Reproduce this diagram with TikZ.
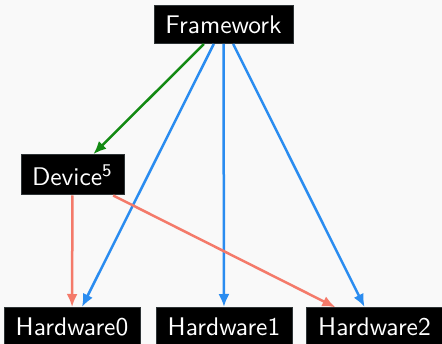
\documentclass[tikz,border=0pt]{standalone}
\usepackage{graphicx}
\usetikzlibrary{arrows.meta}
\renewcommand{\familydefault}{\sfdefault}
\definecolor{bg}{HTML}{F9F9F9}
\definecolor{edgeg}{HTML}{138A13}
\definecolor{edgeb}{HTML}{2A8CF0}
\definecolor{edger}{HTML}{F47A6A}
\definecolor{boxline}{HTML}{2E3436}
% labels use the 10pt sans design, enlarged
\newcommand{\lbl}[1]{\scalebox{2.55}{\normalsize #1}}
\begin{document}
\begin{tikzpicture}[x=1pt,y=-1pt,
  box/.style={draw=boxline, line width=1pt, fill=black, text=white,
    inner sep=0pt, minimum height=38pt, anchor=center},
  link/.style={line width=2.5pt, -{Latex[length=13pt,width=11pt]}, shorten >=0.5pt}]
  \fill[bg] (0,0) rectangle (442,344);
  \useasboundingbox (0,0) rectangle (442,344);
  \node[box, minimum width=139pt] (fw) at (223.5,24.5) {\lbl{Framework}};
  \node[box, minimum width=103pt, minimum height=40pt] (dev) at (72.5,175) {\lbl{Device\textsuperscript{5}}};
  \node[box, minimum width=136pt] (hw0) at (72,327) {\lbl{Hardware0}};
  \node[box, minimum width=136pt] (hw1) at (224,327) {\lbl{Hardware1}};
  \node[box, minimum width=136pt] (hw2) at (374.5,327) {\lbl{Hardware2}};
  \draw[link, edgeg] (fw) -- (dev);
  \draw[link, edgeb] (fw) -- (hw0);
  \draw[link, edgeb] (fw) -- (hw1);
  \draw[link, edgeb] (fw) -- (hw2);
  \draw[link, edger] (dev) -- (hw0);
  \draw[link, edger] (dev) -- (hw2);
\end{tikzpicture}
\end{document}
